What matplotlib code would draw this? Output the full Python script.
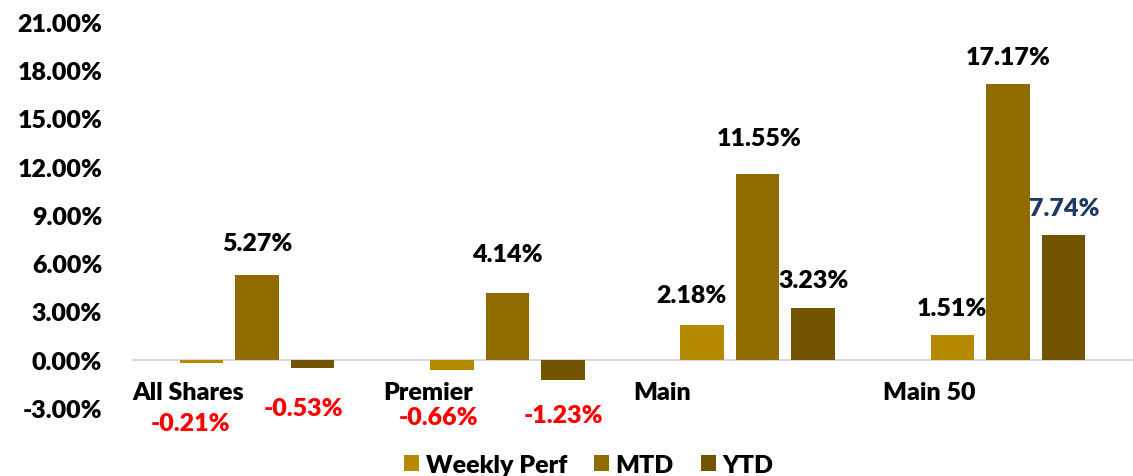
import matplotlib
matplotlib.use("Agg")
import matplotlib.pyplot as plt
import numpy as np
from matplotlib.ticker import FuncFormatter

categories = ["All Shares", "Premier", "Main", "Main 50"]
series_names = ["Weekly Perf", "MTD", "YTD"]
weekly = [-0.21, -0.66, 2.18, 1.51]
mtd = [5.27, 4.14, 11.55, 17.17]
ytd = [-0.53, -1.23, 3.23, 7.74]
yticks = [-3, 0, 3, 6, 9, 12, 15, 18, 21]

colors = ["#B58900", "#8F6B00", "#725400"]
FONT = "Lato"
FS = 18
FW = 'heavy'

plt.rcParams['font.family'] = [FONT, 'DejaVu Sans']
fig = plt.figure(figsize=(11.33, 4.77), dpi=100)
ax = fig.add_axes([132/1133, 1 - 409/477, 1 - 132/1133, (409 - 23)/477])

x = np.arange(len(categories))
width = 0.174
step = 0.222
data = [weekly, mtd, ytd]
bars = []
for k, (vals, c) in enumerate(zip(data, colors)):
    b = ax.bar(x + (k - 1) * step, vals, width, color=c, label=series_names[k], zorder=2)
    bars.append(b)

ax.set_xlim(-0.5, len(categories) - 0.5)
ax.set_ylim(-3, 21)
ax.set_yticks(yticks)
ax.yaxis.set_major_formatter(FuncFormatter(lambda v, p: f"{v:.2f}%"))
ax.tick_params(axis='y', length=0, pad=21.5, labelsize=FS)
for t in ax.get_yticklabels():
    t.set_fontweight(FW)
ax.set_xticks([])
for s in ax.spines.values():
    s.set_visible(False)
ax.axhline(0, color="#D9D9D9", lw=1.5, zorder=1)

# category labels (low position, left aligned)
for i, cat in enumerate(categories):
    ax.text(i - 0.5 + 0.002, -2.43, cat, ha='left', va='baseline', fontsize=FS,
            fontweight=FW, color='black')

# label offsets in pixels (dx, baseline offset from bar end)
label_offsets = {
    (0, 0): (-11, -67), (1, 0): (-13, -54), (2, 0): (-11, 23), (3, 0): (0, 20),
    (0, 1): (0, 25), (1, 1): (0, 32), (2, 1): (2, 29), (3, 1): (0, 20),
    (0, 2): (-9, -47), (1, 2): (1, -42), (2, 2): (0, 21), (3, 2): (1, 20),
}
for k, vals in enumerate(data):
    for i, v in enumerate(vals):
        bx = x[i] + (k - 1) * step
        txt = f"{v:.2f}%"
        dx, dy = label_offsets[(i, k)]
        if v < 0:
            col = '#FF0000'
        elif (i == 3 and k == 2):
            col = '#1F3864'
        else:
            col = 'black'
        ax.annotate(txt, (bx, v), xytext=(dx, dy), textcoords='offset pixels',
                    ha='center', va='baseline', fontsize=FS, fontweight=FW,
                    color=col, zorder=3)

leg = fig.legend(handles=bars, labels=series_names, loc='center',
                 bbox_to_anchor=(589/1133, 1 - 466/477),
                 ncol=3, frameon=False, prop={'family': FONT, 'weight': FW, 'size': FS},
                 handlelength=0.6, handleheight=0.6, handletextpad=0.25, columnspacing=1.1,
                 borderpad=0)

fig.savefig("out.png", dpi=100)
